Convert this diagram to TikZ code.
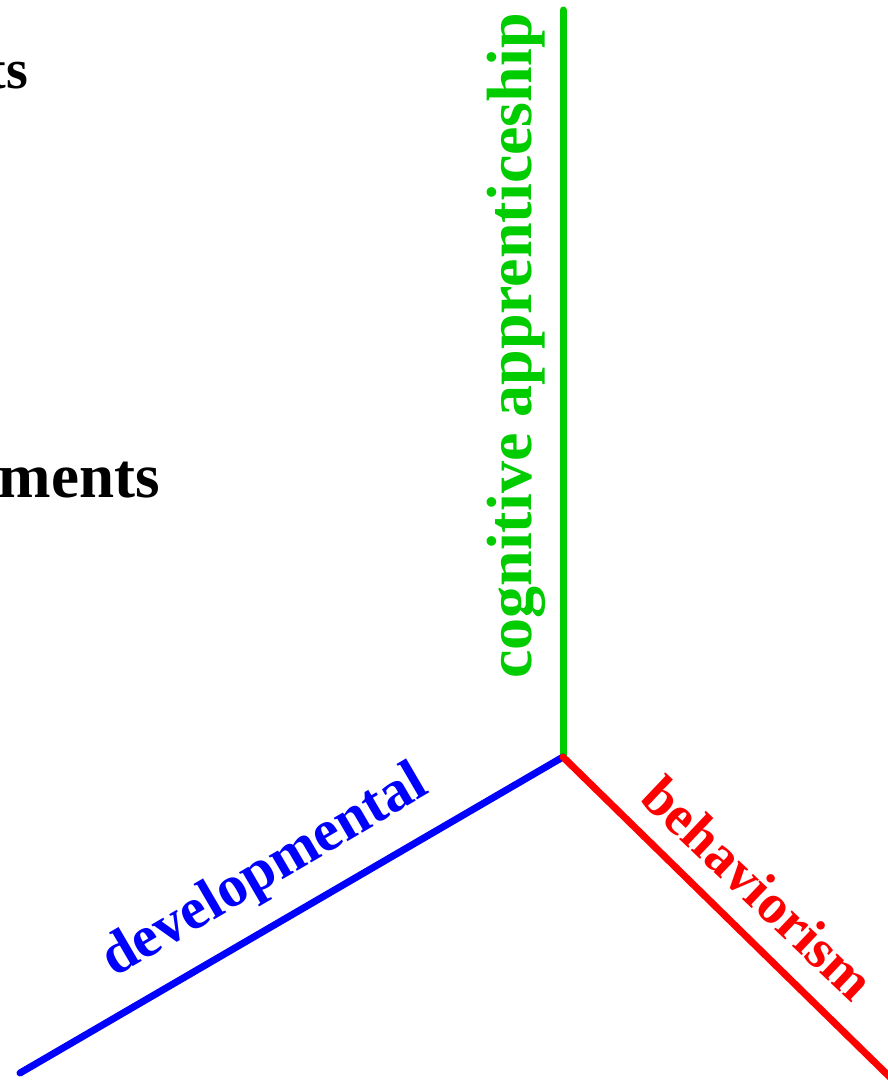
\documentclass[tikz,border=0pt]{standalone}
\usepackage{fontspec}
\setmainfont{Liberation Serif}
\usetikzlibrary{calc, positioning}

\tikzset{
  axis line/.style={line width=7pt, line cap=round},
  axis label/.style={inner sep=0pt, font=\fontsize{63}{70}\selectfont\bfseries},
}

\begin{document}
\begin{tikzpicture}[x=1pt,y=-1pt]
\useasboundingbox (0,0) rectangle (888,1080);
\coordinate (O) at (563,757);
\coordinate (G) at (563,10);
\coordinate (B) at (20,1073);
\coordinate (R) at (900,1087);

\begin{scope}
\clip (0,0) rectangle (888,1080);
\draw[axis line, green!80!black] (O) -- (G);
\draw[axis line, blue] (O) -- (B);
\draw[axis line, red] (O) -- (R);

\node[axis label, green!80!black, rotate=90, anchor=base west, font=\fontsize{64}{70}\selectfont\bfseries] (cog) at (531,679) {cognitive apprenticeship};
\node[axis label, blue, rotate=30.3, anchor=base west, font=\fontsize{59}{66}\selectfont\bfseries] (dev) at (114,978) {developmental};
\node[axis label, red, rotate=-43.5, anchor=base west, font=\fontsize{56}{62}\selectfont\bfseries] (beh) at (638,800) {behaviorism};

\node[axis label, black, anchor=base east, font=\fontsize{56}{60}\selectfont\bfseries] (top) at (28,88) {ts};
\node[axis label, black, anchor=base east] (mid) at (160,497) {ments};
\end{scope}
\end{tikzpicture}
\end{document}
